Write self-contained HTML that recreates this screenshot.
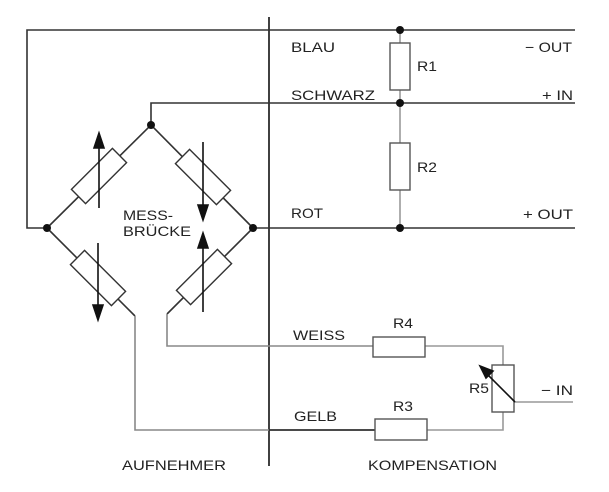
<!DOCTYPE html>
<html><head><meta charset="utf-8"><style>
html,body{margin:0;padding:0;background:#fff}
svg{display:block}
text{font-family:"Liberation Sans",sans-serif;font-size:14px;fill:#222}
</style></head><body>
<svg width="609" height="492" viewBox="0 0 609 492" xmlns="http://www.w3.org/2000/svg">
<g stroke="#333" stroke-width="1.6" fill="none">
<line x1="269" y1="17" x2="269" y2="466" stroke="#111"/>
<polyline points="575,30 27,30 27,228 47,228"/>
<polyline points="151,125 151,103 575,103"/>
<line x1="253" y1="228" x2="575" y2="228"/>
<line x1="47" y1="228" x2="151" y2="125"/>
<line x1="151" y1="125" x2="253" y2="228"/>
<line x1="47" y1="228" x2="135" y2="316"/>
<line x1="253" y1="228" x2="167" y2="314"/>
<polyline points="135,316 135,430 375,430" stroke="#888"/>
<line x1="269" y1="430" x2="375" y2="430" stroke="#222"/>
<polyline points="167,314 167,346 373,346" stroke="#888"/>
<line x1="400" y1="30" x2="400" y2="228" stroke="#999"/>
<polyline points="425,346 503,346 503,366" stroke="#999"/>
<polyline points="427,430 503,430 503,411" stroke="#999"/>
<line x1="514" y1="402" x2="573" y2="402" stroke="#999"/>
</g>
<g stroke="#333" stroke-width="1.4" fill="#fff">
<rect x="-29" y="-10" width="58" height="20" transform="translate(99,176) rotate(-45)"/>
<rect x="-29" y="-10" width="58" height="20" transform="translate(203,177) rotate(45)"/>
<rect x="-29" y="-10" width="58" height="20" transform="translate(98,278) rotate(45)"/>
<rect x="-29" y="-10" width="58" height="20" transform="translate(204,277) rotate(-45)"/>
</g>
<g stroke="#555" stroke-width="1.4" fill="#fff">
<rect x="390" y="43" width="20" height="47"/>
<rect x="390" y="143" width="20" height="47"/>
<rect x="373" y="337" width="52" height="20"/>
<rect x="375" y="419" width="52" height="21"/>
<rect x="492" y="365" width="22" height="47"/>
</g>
<g stroke="#111" stroke-width="1.6" fill="#111">
<line x1="99" y1="208" x2="99" y2="145"/><polygon points="99,133 94,148 104,148"/>
<line x1="203" y1="142" x2="203" y2="208"/><polygon points="203,220 198,205 208,205"/>
<line x1="98" y1="243" x2="98" y2="308"/><polygon points="98,320 93,305 103,305"/>
<line x1="203" y1="312" x2="203" y2="245"/><polygon points="203,233 198,248 208,248"/>
<line x1="515" y1="402" x2="485" y2="372"/><polygon points="480,366 493,371 486,378"/>
</g>
<g fill="#111">
<circle cx="151" cy="125" r="4"/><circle cx="47" cy="228" r="4"/><circle cx="253" cy="228" r="4"/>
<circle cx="400" cy="30" r="4"/><circle cx="400" cy="103" r="4"/><circle cx="400" cy="228" r="4"/>
</g>
<g lengthAdjust="spacingAndGlyphs">
<text x="291" y="52" textLength="44" lengthAdjust="spacingAndGlyphs">BLAU</text>
<text x="291" y="100" textLength="84" lengthAdjust="spacingAndGlyphs">SCHWARZ</text>
<text x="291" y="218" textLength="32" lengthAdjust="spacingAndGlyphs">ROT</text>
<text x="293" y="340" textLength="52" lengthAdjust="spacingAndGlyphs">WEISS</text>
<text x="294" y="421" textLength="43" lengthAdjust="spacingAndGlyphs">GELB</text>
<text x="417" y="71" textLength="20" lengthAdjust="spacingAndGlyphs">R1</text>
<text x="417" y="172" textLength="20" lengthAdjust="spacingAndGlyphs">R2</text>
<text x="393" y="328" textLength="20" lengthAdjust="spacingAndGlyphs">R4</text>
<text x="393" y="411" textLength="20" lengthAdjust="spacingAndGlyphs">R3</text>
<text x="469" y="393" textLength="20" lengthAdjust="spacingAndGlyphs">R5</text>
<text x="525" y="52" textLength="47" lengthAdjust="spacingAndGlyphs">− OUT</text>
<text x="542" y="100" textLength="31" lengthAdjust="spacingAndGlyphs">+ IN</text>
<text x="523" y="219" textLength="50" lengthAdjust="spacingAndGlyphs">+ OUT</text>
<text x="541" y="395" textLength="32" lengthAdjust="spacingAndGlyphs">− IN</text>
<text x="123" y="220" textLength="50" lengthAdjust="spacingAndGlyphs">MESS-</text>
<text x="123" y="236" textLength="68" lengthAdjust="spacingAndGlyphs">BRÜCKE</text>
<text x="122" y="470" textLength="104" lengthAdjust="spacingAndGlyphs">AUFNEHMER</text>
<text x="368" y="470" textLength="129" lengthAdjust="spacingAndGlyphs">KOMPENSATION</text>
</g>
</svg>
</body></html>
